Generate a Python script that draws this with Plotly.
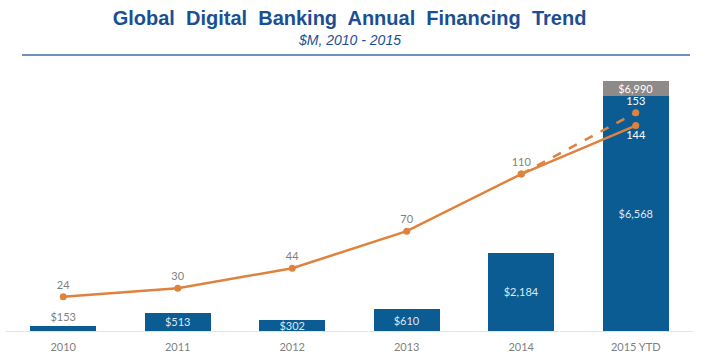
import plotly.graph_objects as go

categories = ["2010", "2011", "2012", "2013", "2014", "2015 YTD"]
financing = [153, 513, 302, 610, 2184, 6568]
financing_labels = ["$153", "$513", "$302", "$610", "$2,184", "$6,568"]
ytd_extra = [0, 0, 0, 0, 0, 422]
ytd_labels = ["", "", "", "", "", "$6,990"]
deals = [24, 30, 44, 70, 110, 144]
deals_proj = [None, None, None, None, 110, 153]

BLUE = "#0b5c93"
GREY = "#8e8a89"
ORANGE = "#e0823d"
LABEL = "#7f7f7f"
TITLE = "#1b4f93"
FONT = "Lato, Open Sans, sans-serif"

fig = go.Figure()

fig.add_trace(go.Bar(
    x=categories, y=financing, marker=dict(color=BLUE, line=dict(width=0)),
    text=financing_labels,
    textposition=["outside", "inside", "inside", "inside", "inside", "inside"],
    insidetextanchor="middle", constraintext="none", cliponaxis=False,
    textfont=dict(family=FONT, size=11),
    insidetextfont=dict(family=FONT, size=11, color="#dfe8f1"),
    outsidetextfont=dict(family=FONT, size=11, color=LABEL),
    width=0.575, showlegend=False, hoverinfo="skip",
))
fig.add_trace(go.Bar(
    x=categories, y=ytd_extra, marker=dict(color=GREY, line=dict(width=0)),
    text=ytd_labels, textposition="inside", insidetextanchor="middle",
    constraintext="none",
    insidetextfont=dict(family=FONT, size=11, color="#ffffff"),
    width=0.575, showlegend=False, hoverinfo="skip",
))

fig.add_trace(go.Scatter(
    x=categories, y=deals_proj, yaxis="y2", mode="lines+markers+text",
    line=dict(color=ORANGE, width=2.5, dash="dash"),
    marker=dict(color=ORANGE, size=7),
    text=["", "", "", "", "", "153"], textposition="top center",
    textfont=dict(family=FONT, size=11, color="#ffffff"),
    showlegend=False, cliponaxis=False, hoverinfo="skip",
))
fig.add_trace(go.Scatter(
    x=categories, y=deals, yaxis="y2", mode="lines+markers+text",
    line=dict(color=ORANGE, width=2.5),
    marker=dict(color=ORANGE, size=7),
    text=[str(v) for v in deals],
    textposition=["top center"] * 5 + ["bottom center"],
    textfont=dict(family=FONT, size=11,
                  color=[LABEL] * 5 + ["#ffffff"]),
    showlegend=False, cliponaxis=False, hoverinfo="skip",
))

plot_h = 361 - 60 - 30
plot_w = 711 - 6 - 18

fig.update_layout(
    width=711, height=361,
    margin=dict(l=6, r=18, t=60, b=30),
    paper_bgcolor="white", plot_bgcolor="white",
    barmode="stack", bargap=0.42,
    title=dict(
        text="Global  Digital  Banking  Annual  Financing  Trend",
        x=0.5, xref="paper", y=1 - 18 / 361, yanchor="middle",
        font=dict(family="Liberation Sans, Arial, sans-serif", size=20, color=TITLE,
                  weight="bold"),
    ),
    xaxis=dict(
        showgrid=False, showline=True, linecolor="#e3e3e3", linewidth=1,
        ticks="", tickfont=dict(family=FONT, size=11, color=LABEL),
        ticklabelstandoff=6, fixedrange=True,
    ),
    yaxis=dict(range=[0, 7570], visible=False, showgrid=False, zeroline=False,
               fixedrange=True),
    yaxis2=dict(range=[0, 190], overlaying="y", visible=False, showgrid=False,
                zeroline=False, fixedrange=True),
    annotations=[dict(
        text="<i>$M, 2010 - 2015</i>", x=0.5, xref="paper",
        y=(331 - 39.5) / plot_h, yref="paper", yanchor="middle",
        showarrow=False,
        font=dict(family="Liberation Sans, Arial, sans-serif", size=14, color=TITLE),
    )],
)

fig.add_shape(type="line", xref="paper", yref="paper",
              x0=(22 - 6) / plot_w, x1=(690 - 6) / plot_w,
              y0=(331 - 55) / plot_h, y1=(331 - 55) / plot_h,
              line=dict(color="#3f6aa8", width=1.5))

fig.write_html("out.html",
               config={"displayModeBar": False},
               post_script="document.body.style.margin='0';document.body.style.overflow='hidden';")
